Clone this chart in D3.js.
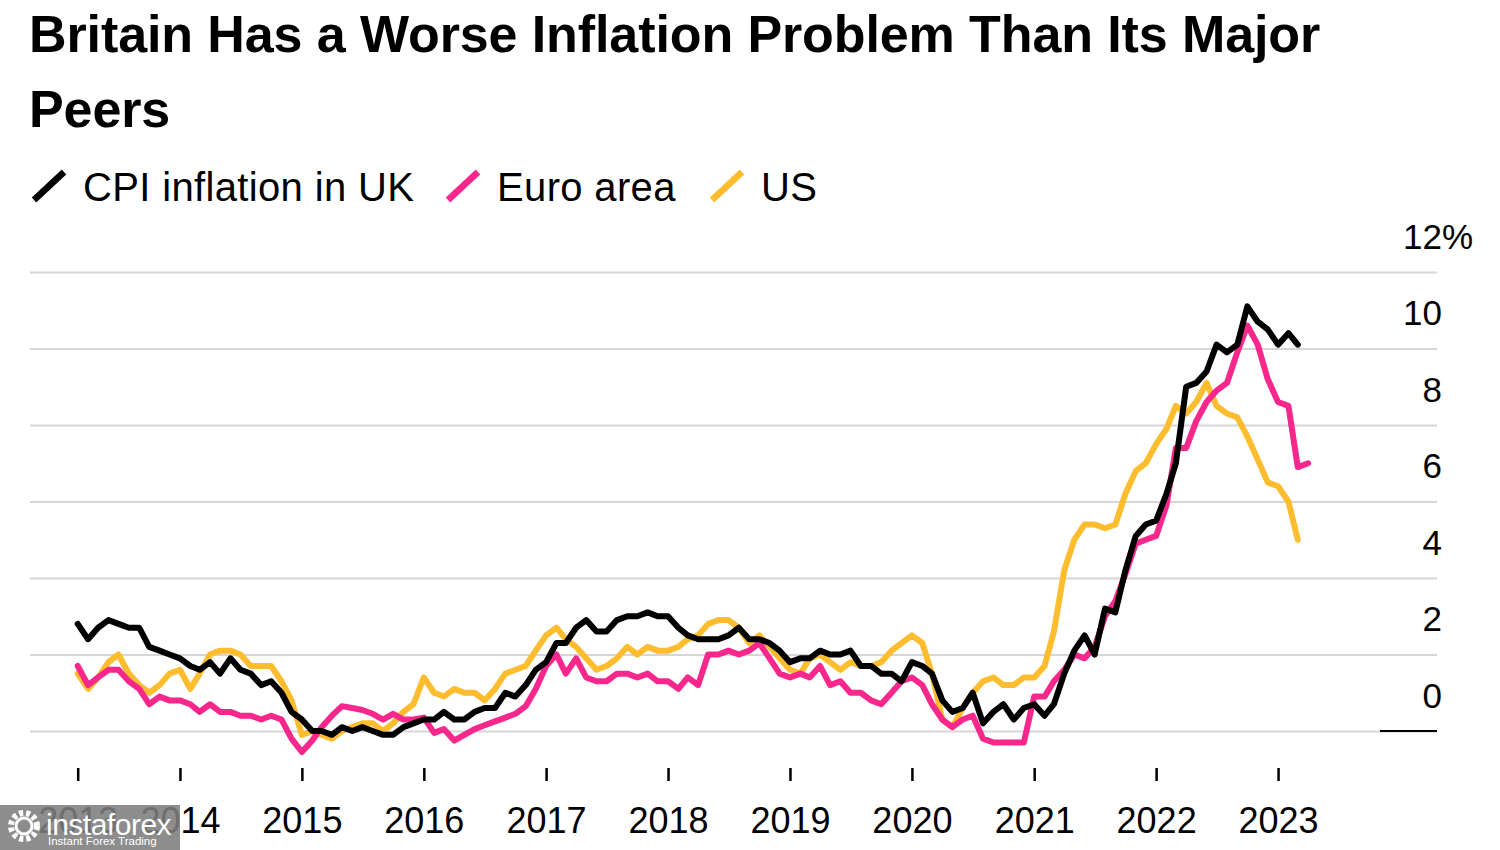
<!DOCTYPE html>
<html>
<head>
<meta charset="utf-8">
<script src="https://cdn.jsdelivr.net/npm/d3@7"></script>
<style>
  html, body { margin: 0; padding: 0; background: #fff; }
  svg { display: block; font-family: "Liberation Sans", Arial, sans-serif; }
</style>
</head>
<body>
<svg id="chart" width="1500" height="850"></svg>
<script>
// ---------------- DATA ----------------
const titleLines = ["Britain Has a Worse Inflation Problem Than Its Major", "Peers"];
const seriesNames = ["CPI inflation in UK", "Euro area", "US"];
const seriesColors = ["#000000", "#f7278c", "#fdbd2e"];
const seriesStart = "2013-03"; // first monthly observation of every series

const ukValues = [
  2.8, 2.4, 2.7, 2.9, 2.8, 2.7, 2.7, 2.2, 2.1, 2.0,
  1.9, 1.7, 1.6, 1.8, 1.5, 1.9, 1.6, 1.5, 1.2, 1.3, 1.0, 0.5,
  0.3, 0.0, 0.0, -0.1, 0.1, 0.0, 0.1, 0.0, -0.1, -0.1, 0.1, 0.2,
  0.3, 0.3, 0.5, 0.3, 0.3, 0.5, 0.6, 0.6, 1.0, 0.9, 1.2, 1.6,
  1.8, 2.3, 2.3, 2.7, 2.9, 2.6, 2.6, 2.9, 3.0, 3.0, 3.1, 3.0,
  3.0, 2.7, 2.5, 2.4, 2.4, 2.4, 2.5, 2.7, 2.4, 2.4, 2.3, 2.1,
  1.8, 1.9, 1.9, 2.1, 2.0, 2.0, 2.1, 1.7, 1.7, 1.5, 1.5, 1.3,
  1.8, 1.7, 1.5, 0.8, 0.5, 0.6, 1.0, 0.2, 0.5, 0.7, 0.3, 0.6,
  0.7, 0.4, 0.7, 1.5, 2.1, 2.5, 2.0, 3.2, 3.1, 4.2, 5.1, 5.4,
  5.5, 6.2, 7.0, 9.0, 9.1, 9.4, 10.1, 9.9, 10.1, 11.1, 10.7, 10.5,
  10.1, 10.4, 10.1
];
const euroValues = [
  1.7, 1.2, 1.4, 1.6, 1.6, 1.3, 1.1, 0.7, 0.9, 0.8,
  0.8, 0.7, 0.5, 0.7, 0.5, 0.5, 0.4, 0.4, 0.3, 0.4, 0.3, -0.2,
  -0.55, -0.25, 0.1, 0.4, 0.65, 0.6, 0.55, 0.45, 0.3, 0.45, 0.3, 0.3,
  0.35, -0.05, 0.05, -0.25, -0.1, 0.05, 0.15, 0.25, 0.35, 0.45, 0.65, 1.1,
  1.7, 2.0, 1.5, 1.9, 1.4, 1.3, 1.3, 1.5, 1.5, 1.4, 1.5, 1.3,
  1.3, 1.1, 1.4, 1.2, 2.0, 2.0, 2.1, 2.0, 2.1, 2.3, 1.9, 1.5,
  1.4, 1.5, 1.4, 1.7, 1.2, 1.3, 1.0, 1.0, 0.8, 0.7, 1.0, 1.3,
  1.4, 1.2, 0.7, 0.3, 0.1, 0.3, 0.4, -0.2, -0.3, -0.3, -0.3, -0.3,
  0.9, 0.9, 1.3, 1.6, 2.0, 1.9, 2.2, 3.0, 3.4, 4.1, 4.9, 5.0,
  5.1, 5.9, 7.4, 7.4, 8.1, 8.6, 8.9, 9.1, 9.9, 10.6, 10.1, 9.2,
  8.6, 8.5, 6.9, 7.0
];
const usValues = [
  1.5, 1.1, 1.4, 1.8, 2.0, 1.5, 1.2, 1.0, 1.2, 1.5,
  1.6, 1.1, 1.5, 2.0, 2.1, 2.1, 2.0, 1.7, 1.7, 1.7, 1.3, 0.8,
  -0.1, 0.0, -0.1, -0.2, 0.0, 0.1, 0.2, 0.2, 0.0, 0.2, 0.5, 0.7,
  1.4, 1.0, 0.9, 1.1, 1.0, 1.0, 0.8, 1.1, 1.5, 1.6, 1.7, 2.1,
  2.5, 2.7, 2.4, 2.2, 1.9, 1.6, 1.7, 1.9, 2.2, 2.0, 2.2, 2.1,
  2.1, 2.2, 2.4, 2.5, 2.8, 2.9, 2.9, 2.7, 2.3, 2.5, 2.2, 1.9,
  1.6, 1.5, 1.9, 2.0, 1.8, 1.6, 1.8, 1.7, 1.7, 1.8, 2.1, 2.3,
  2.5, 2.3, 1.5, 0.3, 0.1, 0.6, 1.0, 1.3, 1.4, 1.2, 1.2, 1.4,
  1.4, 1.7, 2.6, 4.2, 5.0, 5.4, 5.4, 5.3, 5.4, 6.2, 6.8, 7.0,
  7.5, 7.9, 8.5, 8.3, 8.6, 9.1, 8.5, 8.3, 8.2, 7.7, 7.1, 6.5,
  6.4, 6.0, 5.0
];

const xTickDates = ["2013-03", "2014-01", "2015-01", "2016-01", "2017-01", "2018-01",
                    "2019-01", "2020-01", "2021-01", "2022-01", "2023-01"];
const xTickLabels = ["2013", "2014", "2015", "2016", "2017", "2018",
                     "2019", "2020", "2021", "2022", "2023"];
const yTickValues = [0, 2, 4, 6, 8, 10, 12];
const yDomain = [0, 12];

// ---------------- LAYOUT ----------------
const parseMonth = d3.timeParse("%Y-%m");
const svg = d3.select("#chart");

const x = d3.scaleTime()
  .domain([parseMonth("2013-01"), parseMonth("2024-01")])
  .range([58, 1400]);
const y = d3.scaleLinear().domain(yDomain).range([731, 272]);

const gridLeft = 30, gridRight = 1437;

// Title
svg.append("g").selectAll("text").data(titleLines).join("text")
  .attr("x", 29)
  .attr("y", (d, i) => 52 + i * 75)
  .attr("font-size", 52)
  .attr("font-weight", "bold")
  .attr("letter-spacing", -0.1)
  .attr("fill", "#000")
  .text(d => d);

// Legend
const legendX = [30, 444, 708];
const leg = svg.append("g").selectAll("g").data(seriesNames).join("g")
  .attr("transform", (d, i) => `translate(${legendX[i]},0)`);
leg.append("line")
  .attr("x1", 4).attr("y1", 200).attr("x2", 34).attr("y2", 172)
  .attr("stroke", (d, i) => seriesColors[i])
  .attr("stroke-width", 6.5);
leg.append("text")
  .attr("x", 53).attr("y", 201)
  .attr("font-size", 40)
  .attr("letter-spacing", 0.35)
  .attr("fill", "#000")
  .text(d => d);

// Y grid + labels
const yAxis = d3.axisLeft(y)
  .tickValues(yTickValues)
  .tickSize(gridRight - gridLeft)
  .tickFormat(d => d);
const gy = svg.append("g")
  .attr("transform", `translate(${gridRight},0)`)
  .call(yAxis);
gy.select(".domain").remove();
gy.selectAll(".tick line")
  .attr("stroke", "#d6d6d6")
  .attr("stroke-width", 2);
gy.selectAll(".tick text")
  .attr("x", 5)
  .attr("dy", -24)
  .attr("text-anchor", "end")
  .attr("font-size", 35)
  .attr("fill", "#000")
  .attr("font-family", "'Liberation Sans', Arial, sans-serif");
// percent sign on the top label
gy.selectAll(".tick").filter(d => d === d3.max(yTickValues))
  .append("text")
  .attr("x", 5).attr("y", 0).attr("dy", -24)
  .attr("text-anchor", "start")
  .attr("font-size", 35)
  .attr("fill", "#000")
  .attr("font-family", "'Liberation Sans', Arial, sans-serif")
  .text("%");
// dark baseline segment at zero
svg.append("line")
  .attr("x1", 1380).attr("x2", gridRight)
  .attr("y1", y(0)).attr("y2", y(0))
  .attr("stroke", "#000").attr("stroke-width", 2);

// X axis
const xAxis = d3.axisBottom(x)
  .tickValues(xTickDates.map(parseMonth))
  .tickSize(13)
  .tickPadding(26)
  .tickFormat((d, i) => xTickLabels[i]);
const gx = svg.append("g")
  .attr("transform", "translate(0,768)")
  .call(xAxis);
gx.select(".domain").remove();
gx.selectAll(".tick line").attr("stroke", "#000").attr("stroke-width", 2.5);
gx.selectAll(".tick text")
  .attr("font-size", 36)
  .attr("fill", "#000")
  .attr("font-family", "'Liberation Sans', Arial, sans-serif");

// Lines
const start = parseMonth(seriesStart);
const toPoints = vals => vals.map((v, i) => ({ date: d3.timeMonth.offset(start, i), value: v }));
const allSeries = [
  { name: seriesNames[2], color: seriesColors[2], points: toPoints(usValues) },
  { name: seriesNames[1], color: seriesColors[1], points: toPoints(euroValues) },
  { name: seriesNames[0], color: seriesColors[0], points: toPoints(ukValues) }
];
const line = d3.line().x(d => x(d.date)).y(d => y(d.value));
svg.append("g").selectAll("path").data(allSeries).join("path")
  .attr("d", d => line(d.points))
  .attr("fill", "none")
  .attr("stroke", d => d.color)
  .attr("stroke-width", 6)
  .attr("stroke-linejoin", "round")
  .attr("stroke-linecap", "round");

// Watermark overlay (bottom-left)
const wm = svg.append("g");
wm.append("rect").attr("x", 0).attr("y", 805).attr("width", 180).attr("height", 45)
  .attr("fill", "#7d7d7d").attr("opacity", 0.88);
wm.append("circle").attr("cx", 24).attr("cy", 826).attr("r", 13)
  .attr("fill", "none").attr("stroke", "#fff").attr("stroke-width", 6)
  .attr("stroke-dasharray", "4 3");
wm.append("circle").attr("cx", 24).attr("cy", 826).attr("r", 8)
  .attr("fill", "none").attr("stroke", "#fff").attr("stroke-width", 3);
wm.append("text").attr("x", 46).attr("y", 835).attr("font-size", 30)
  .attr("fill", "#fff").attr("letter-spacing", -0.5).text("instaforex");
wm.append("text").attr("x", 48).attr("y", 845).attr("font-size", 11.5)
  .attr("fill", "#fff").text("Instant Forex Trading");
</script>
</body>
</html>
